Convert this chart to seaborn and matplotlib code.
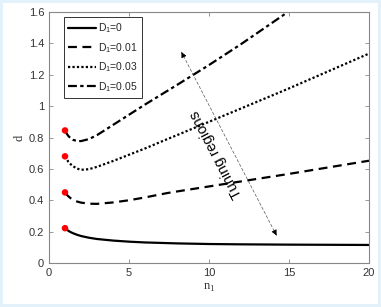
import numpy as np
import pandas as pd
import matplotlib
matplotlib.use("Agg")
import matplotlib.pyplot as plt
from matplotlib.ticker import FuncFormatter
import seaborn as sns

# values
n1_d0 = [1, 1.1, 1.2, 1.35, 1.5, 1.75, 2, 2.5, 3, 4, 5, 6, 8, 10, 12, 15, 20]
d_d0 = [0.222, 0.213, 0.206, 0.197, 0.19, 0.18, 0.172, 0.161, 0.153, 0.143, 0.136, 0.131, 0.125, 0.121, 0.119, 0.117, 0.115]

n1_d01 = [1, 1.1, 1.2, 1.35, 1.5, 1.75, 2, 2.5, 3, 4, 5, 6, 7.4, 8, 10, 12, 15, 20]
d_d01 = [0.45, 0.437, 0.426, 0.413, 0.403, 0.392, 0.385, 0.378, 0.377, 0.386, 0.4, 0.418, 0.446, 0.456, 0.488, 0.52, 0.568, 0.652]

n1_d03 = [1, 1.1, 1.2, 1.35, 1.5, 1.75, 2, 2.5, 3, 4, 5, 6, 7, 8, 10, 12, 15, 20]
d_d03 = [0.68, 0.662, 0.647, 0.63, 0.617, 0.602, 0.594, 0.598, 0.613, 0.65, 0.69, 0.73, 0.773, 0.815, 0.9, 0.985, 1.113, 1.335]

n1_d05 = [1, 1.1, 1.2, 1.35, 1.5, 1.75, 2, 2.5, 3, 4, 5, 6, 8, 10, 12, 14, 16]
d_d05 = [0.845, 0.826, 0.811, 0.795, 0.785, 0.778, 0.777, 0.79, 0.815, 0.88, 0.945, 1.01, 1.135, 1.262, 1.395, 1.535, 1.675]

labels = ["D$_\\mathregular{1}$=0", "D$_\\mathregular{1}$=0.01",
          "D$_\\mathregular{1}$=0.03", "D$_\\mathregular{1}$=0.05"]

frames = []
for lab, xs, ys in zip(labels, [n1_d0, n1_d01, n1_d03, n1_d05], [d_d0, d_d01, d_d03, d_d05]):
    frames.append(pd.DataFrame({"n1": xs, "d": ys, "D1": lab}))
df = pd.concat(frames, ignore_index=True)
starts = df.groupby("D1", sort=False).first().reset_index()

sns.set_style("white")
plt.rcParams["font.family"] = ["Liberation Sans", "DejaVu Sans"]

fig = plt.figure(figsize=(3.81, 3.07), dpi=100)
fig.patch.set_edgecolor("#e2f1fa")
fig.patch.set_linewidth(4)
ax = fig.add_axes([49 / 381, 1 - 263 / 307, 320 / 381, 251 / 307])

dash_styles = {
    labels[0]: "",
    labels[1]: (4, 2.5),
    labels[2]: (1, 1),
    labels[3]: (4, 1.5, 1.5, 1.5),
}
sns.lineplot(data=df, x="n1", y="d", style="D1", dashes=dash_styles, color="black",
             linewidth=1.6, estimator=None, sort=False, ax=ax, legend=True)
sns.scatterplot(data=starts, x="n1", y="d", color="red", s=22, edgecolor="none",
                ax=ax, legend=False, zorder=5)

ax.set_xlim(0, 20)
ax.set_ylim(0, 1.6)
ax.set_xticks([0, 5, 10, 15, 20])
ax.set_yticks(np.arange(0, 1.61, 0.2))
ax.yaxis.set_major_formatter(FuncFormatter(lambda v, p: f"{v:g}"))
ax.tick_params(direction="in", length=3, width=0.6, colors="#888888",
               labelcolor="#333333", labelsize=8, top=True, right=True,
               bottom=True, left=True)
for s in ax.spines.values():
    s.set_visible(True)
    s.set_color("#888888")
    s.set_linewidth(0.8)

ax.set_xlabel("n$_\\mathregular{1}$", family="Liberation Serif", fontsize=9,
              color="#333333", labelpad=3)
ax.set_ylabel("d", family="Liberation Serif", fontsize=9, color="#333333", labelpad=2)

handles, _ = ax.get_legend_handles_labels()
leg = ax.legend(handles[-4:], labels, loc="upper left", bbox_to_anchor=(0.047, 0.98),
                borderaxespad=0, fancybox=False, fontsize=7.5, handlelength=2.7,
                labelspacing=0.55, handletextpad=0.2, borderpad=0.4, framealpha=1)
leg.get_frame().set_edgecolor("#333333")
leg.get_frame().set_linewidth(0.7)

# tuning-region arrow
ax.annotate("", xy=(8.2, 1.36), xytext=(14.3, 0.16),
            arrowprops=dict(arrowstyle="-", linestyle=(0, (4, 3)), lw=0.5, color="#555555"))
for tip, back in [((8.2, 1.36), (8.45, 1.31)), ((14.3, 0.16), (14.05, 0.21))]:
    ax.annotate("", xy=tip, xytext=back,
                arrowprops=dict(arrowstyle="-|>", lw=0.5, color="black", mutation_scale=8))
ax.text(10.48, 0.694, "Tuning regions", rotation=117.5, rotation_mode="anchor",
        ha="center", va="center", fontsize=10.5, color="black")

fig.savefig("out.png", dpi=100)
